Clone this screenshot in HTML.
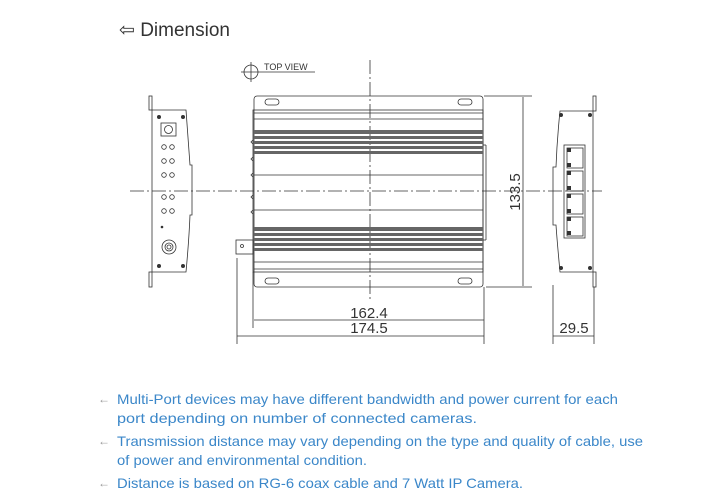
<!DOCTYPE html>
<html><head><meta charset="utf-8"><style>
html,body{margin:0;padding:0;background:#fff;width:720px;height:500px;overflow:hidden}
svg{display:block}
</style></head><body>
<svg width="720" height="500" viewBox="0 0 720 500" xmlns="http://www.w3.org/2000/svg" font-family="Liberation Sans, sans-serif">
<text x="119" y="36" font-size="19" fill="#333">⇦ Dimension</text>
<!-- top view symbol -->
<circle cx="251" cy="72" r="7" fill="none" stroke="#333" stroke-width="0.8"/>
<line x1="241" y1="72" x2="315" y2="72" stroke="#333" stroke-width="0.8"/>
<line x1="251" y1="62" x2="251" y2="82" stroke="#333" stroke-width="0.8"/>
<text x="264" y="70" font-size="9" fill="#333">TOP VIEW</text>
<g stroke="#333" fill="none" stroke-width="0.8">
<!-- centerlines -->
<line x1="130" y1="191" x2="602" y2="191" stroke-dasharray="14,3,2,3"/>
<line x1="370" y1="60" x2="370" y2="300" stroke-dasharray="14,3,2,3"/>
<!-- main body -->
<rect x="254" y="96" width="229" height="191" rx="3"/>
<rect x="253" y="110" width="230" height="162"/>
<line x1="254" y1="113" x2="483" y2="113"/>
<line x1="254" y1="269" x2="483" y2="269"/>
<line x1="254" y1="119" x2="483" y2="119"/>
<line x1="254" y1="175" x2="483" y2="175"/>
<line x1="254" y1="210" x2="483" y2="210"/>
<line x1="254" y1="262" x2="483" y2="262"/>
<rect x="265" y="99" width="14" height="6" rx="3"/>
<rect x="458" y="99" width="14" height="6" rx="3"/>
<rect x="265" y="278" width="14" height="6" rx="3"/>
<rect x="458" y="278" width="14" height="6" rx="3"/>
<rect x="236" y="240" width="17" height="14"/>
<circle cx="242" cy="246" r="1.5"/>
<line x1="483" y1="145" x2="486" y2="145"/><line x1="486" y1="145" x2="486" y2="240"/><line x1="483" y1="240" x2="486" y2="240"/>
<path d="M253 140 l-2 2 l2 2 M253 157 l-2 2 l2 2 M253 173 l-2 2 l2 2 M253 195 l-2 2 l2 2 M253 210 l-2 2 l2 2"/>
</g>
<g fill="#666">
<rect x="254" y="130" width="229" height="4"/><rect x="254" y="136" width="229" height="3"/><rect x="254" y="141" width="229" height="3"/><rect x="254" y="146" width="229" height="3"/><rect x="254" y="151" width="229" height="3"/>
<rect x="254" y="227" width="229" height="4"/><rect x="254" y="233" width="229" height="3"/><rect x="254" y="238" width="229" height="3"/><rect x="254" y="243" width="229" height="3"/><rect x="254" y="248" width="229" height="3"/>
</g>
<g stroke="#333" fill="none" stroke-width="0.8">
<!-- left side view -->
<path d="M152 110 L186 110 Q189 150 190 165 L192 165 L192 215 L190 215 Q189 240 186 272 L152 272 Z"/>
<rect x="149" y="96" width="3" height="14"/><rect x="149" y="272" width="3" height="15"/>
<rect x="161" y="123" width="15" height="13"/>
<circle cx="168.5" cy="129.5" r="4"/>
<circle cx="164" cy="147" r="2.3"/><circle cx="172" cy="147" r="2.3"/>
<circle cx="164" cy="161" r="2.3"/><circle cx="172" cy="161" r="2.3"/>
<circle cx="164" cy="175" r="2.3"/><circle cx="172" cy="175" r="2.3"/>
<circle cx="164" cy="197" r="2.3"/><circle cx="172" cy="197" r="2.3"/>
<circle cx="164" cy="211" r="2.3"/><circle cx="172" cy="211" r="2.3"/>
<circle cx="169" cy="247" r="7"/><circle cx="169" cy="247" r="4"/><circle cx="169" cy="247" r="2"/>
<!-- right side view -->
<path d="M560 111 L593 111 L593 272 L560 272 Q557 240 556 225 L553 225 L553 167 L556 167 Q557 140 560 111 Z"/>
<rect x="593" y="96" width="3" height="15"/><rect x="593" y="272" width="3" height="15"/>
<rect x="564" y="145" width="21" height="93"/>
<rect x="567" y="148" width="16" height="20"/><rect x="567" y="171" width="16" height="20"/><rect x="567" y="194" width="16" height="20"/><rect x="567" y="217" width="16" height="19"/>
<!-- dimension lines -->
<line x1="484" y1="96" x2="532" y2="96"/><line x1="486" y1="287" x2="532" y2="287"/>
<line x1="523" y1="97" x2="523" y2="286"/>
<line x1="253" y1="272" x2="253" y2="328"/><line x1="484" y1="287" x2="484" y2="344"/><line x1="237" y1="258" x2="237" y2="344"/>
<line x1="254" y1="320" x2="484" y2="320"/><line x1="237" y1="336" x2="484" y2="336"/>
<line x1="553" y1="285" x2="553" y2="344"/><line x1="594" y1="287" x2="594" y2="344"/>
<line x1="553" y1="336" x2="594" y2="336"/>
</g>
<g fill="#333">
<circle cx="159" cy="117" r="2"/><circle cx="183" cy="117" r="2"/><circle cx="159" cy="266" r="2"/><circle cx="183" cy="266" r="2"/>
<circle cx="561" cy="115" r="2"/><circle cx="590" cy="115" r="2"/><circle cx="561" cy="268" r="2"/><circle cx="590" cy="268" r="2"/>
<circle cx="162" cy="227" r="1.3"/>
<rect x="567" y="148" width="4" height="4"/><rect x="567" y="163" width="4" height="4"/><rect x="567" y="171" width="4" height="4"/><rect x="567" y="186" width="4" height="4"/><rect x="567" y="194" width="4" height="4"/><rect x="567" y="209" width="4" height="4"/><rect x="567" y="217" width="4" height="4"/><rect x="567" y="231" width="4" height="4"/>
</g>
<g font-size="15" fill="#333" text-anchor="middle">
<text x="369" y="318">162.4</text>
<text x="369" y="333">174.5</text>
<text x="574" y="333">29.5</text>
<text x="0" y="0" transform="translate(520 192) rotate(-90)">133.5</text>
</g>
<g font-size="14" fill="#3b87c9">
<text x="98" y="403" fill="#999" font-size="12">←</text>
<text x="117" y="404" textLength="501" lengthAdjust="spacingAndGlyphs">Multi-Port devices may have different bandwidth and power current for each</text>
<text x="117" y="423" textLength="360" lengthAdjust="spacingAndGlyphs">port depending on number of connected cameras.</text>
<text x="98" y="445" fill="#999" font-size="12">←</text>
<text x="117" y="446" textLength="526" lengthAdjust="spacingAndGlyphs">Transmission distance may vary depending on the type and quality of cable, use</text>
<text x="117" y="465" textLength="250" lengthAdjust="spacingAndGlyphs">of power and environmental condition.</text>
<text x="98" y="487" fill="#999" font-size="12">←</text>
<text x="117" y="488" textLength="406" lengthAdjust="spacingAndGlyphs">Distance is based on RG-6 coax cable and 7 Watt IP Camera.</text>
</g>
</svg>
</body></html>
